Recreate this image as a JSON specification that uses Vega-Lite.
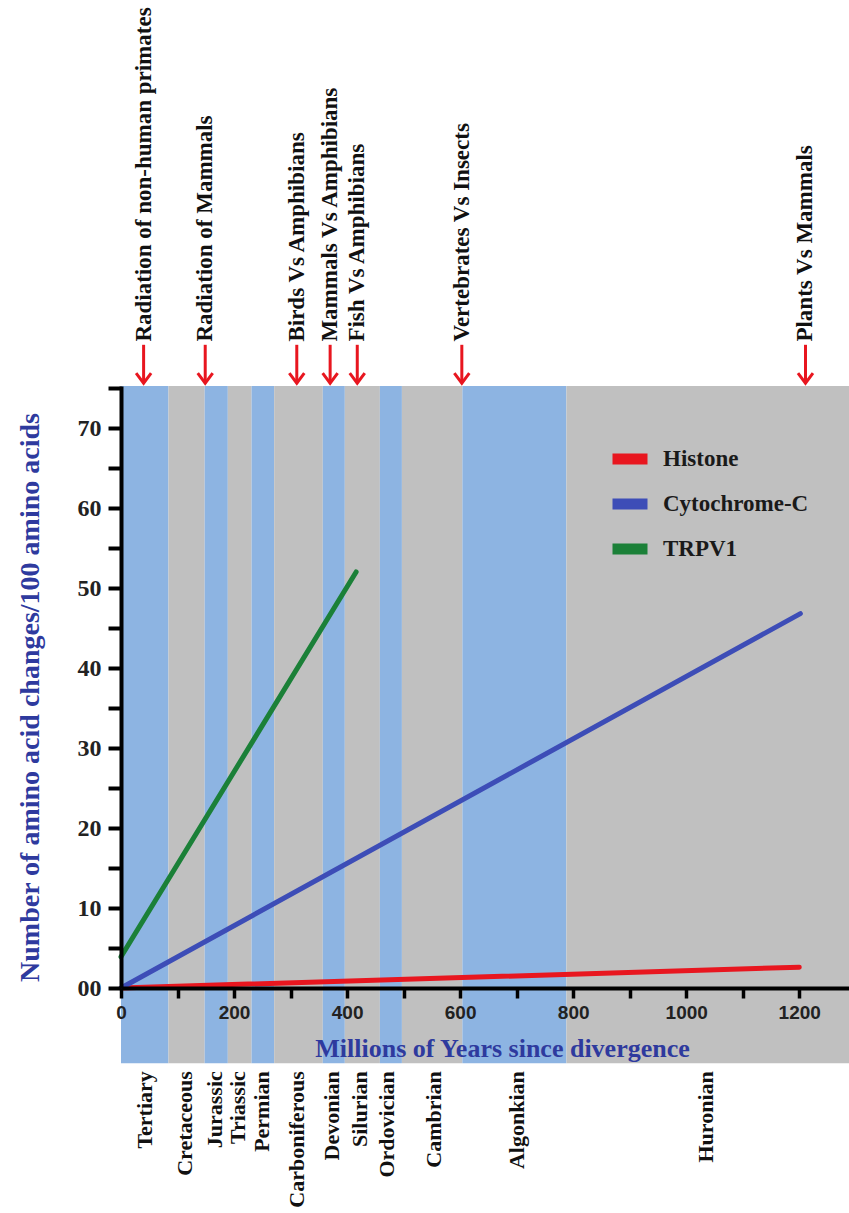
{
  "$schema": "https://vega.github.io/schema/vega-lite/v6.json",
  "width": 728,
  "height": 602,
  "autosize": {"type": "none"},
  "padding": {"left": 121, "top": 386, "right": 0, "bottom": 225},
  "background": "white",
  "config": {"view": {"stroke": null}},
  "datasets": {
    "periods": [
      {"period": "Tertiary", "start": 0, "end": 84, "mid": 43, "shade": "light"},
      {"period": "Cretaceous", "start": 84, "end": 148, "mid": 113, "shade": "dark"},
      {"period": "Jurassic", "start": 148, "end": 189, "mid": 166, "shade": "light"},
      {"period": "Triassic", "start": 189, "end": 231, "mid": 207, "shade": "dark"},
      {"period": "Permian", "start": 231, "end": 271, "mid": 249, "shade": "light"},
      {"period": "Carboniferous", "start": 271, "end": 357, "mid": 311, "shade": "dark"},
      {"period": "Devonian", "start": 357, "end": 396, "mid": 373, "shade": "light"},
      {"period": "Silurian", "start": 396, "end": 458, "mid": 423, "shade": "dark"},
      {"period": "Ordovician", "start": 458, "end": 497, "mid": 470, "shade": "light"},
      {"period": "Cambrian", "start": 497, "end": 604, "mid": 553, "shade": "dark"},
      {"period": "Algonkian", "start": 604, "end": 788, "mid": 700, "shade": "light"},
      {"period": "Huronian", "start": 788, "end": 1288, "mid": 1035, "shade": "dark"}
    ],
    "events": [
      {"event": "Radiation of non-human primates", "at": 40},
      {"event": "Radiation of Mammals", "at": 149},
      {"event": "Birds Vs Amphibians", "at": 311},
      {"event": "Mammals Vs Amphibians", "at": 370},
      {"event": "Fish Vs Amphibians", "at": 418},
      {"event": "Vertebrates Vs Insects", "at": 603},
      {"event": "Plants Vs Mammals", "at": 1211}
    ],
    "series": [
      {"protein": "Histone", "myr": 0, "changes": 0},
      {"protein": "Histone", "myr": 1200, "changes": 2.6},
      {"protein": "Cytochrome-C", "myr": 0, "changes": 0},
      {"protein": "Cytochrome-C", "myr": 1202, "changes": 46.8},
      {"protein": "TRPV1", "myr": 0, "changes": 3.9},
      {"protein": "TRPV1", "myr": 416, "changes": 52.0}
    ]
  },
  "resolve": {"scale": {"color": "independent"}, "legend": {"color": "independent"}},
  "layer": [
    {
      "data": {"name": "periods"},
      "mark": {"type": "rect"},
      "encoding": {
        "x": {
          "field": "start", "type": "quantitative",
          "scale": {"domain": [0, 1288], "nice": false, "zero": false},
          "axis": {
            "values": [0, 100, 200, 300, 400, 500, 600, 700, 800, 900, 1000, 1100, 1200],
            "format": "d",
            "labelExpr": "datum.value % 200 === 0 ? datum.label : ''",
            "title": "Millions of Years since divergence",
            "grid": false, "zindex": 1,
            "domainColor": "#000", "domainWidth": 4,
            "tickColor": "#000", "tickWidth": 3.5, "tickSize": 10,
            "labelFont": "Liberation Sans", "labelFontWeight": "bold", "labelFontSize": 19, "labelColor": "#222",
            "labelPadding": 5, "labelFlush": false, "labelOverlap": false,
            "titleFont": "Liberation Serif", "titleFontWeight": "bold", "titleFontSize": 26, "titleColor": "#2e3a9e",
            "titleX": 381, "titleY": 60, "titleBaseline": "middle", "titleAlign": "center",
            "encode": {"ticks": {"update": {"y2": {"signal": "datum.value % 200 === 0 ? 10 : 6"}}}}
          }
        },
        "x2": {"field": "end"},
        "y": {
          "datum": 75.25, "type": "quantitative",
          "scale": {"domain": [0, 75.25], "nice": false},
          "axis": {
            "values": [0, 5, 10, 15, 20, 25, 30, 35, 40, 45, 50, 55, 60, 65, 70, 75],
            "labelExpr": "datum.value % 10 === 0 ? (datum.value === 0 ? '00' : datum.label) : ''",
            "title": "Number of amino acid changes/100 amino acids",
            "grid": false, "zindex": 1,
            "domainColor": "#000", "domainWidth": 4,
            "tickColor": "#000", "tickWidth": 4, "tickSize": 13,
            "labelFont": "Liberation Serif", "labelFontWeight": "bold", "labelFontSize": 24, "labelColor": "#222",
            "labelPadding": 7, "labelFlush": false, "labelOverlap": false,
            "titleFont": "Liberation Serif", "titleFontWeight": "bold", "titleFontSize": 28, "titleColor": "#2e3a9e",
            "titleX": -91, "titleY": 311, "titleAngle": 270, "titleBaseline": "middle", "titleAlign": "center",
            "encode": {"ticks": {"update": {"x2": {"signal": "datum.value % 10 === 0 ? -13 : -7"}}}}
          }
        },
        "y2": {"datum": -9.4},
        "color": {"field": "shade", "type": "nominal", "scale": {"domain": ["light", "dark"], "range": ["#8db4e2", "#c0c0c0"]}, "legend": null}
      }
    },
    {
      "data": {"name": "periods"},
      "mark": {"type": "text", "angle": 270, "align": "right", "baseline": "middle", "font": "Liberation Serif", "fontWeight": "bold", "fontSize": 22, "color": "#111"},
      "encoding": {
        "x": {"field": "mid", "type": "quantitative"},
        "y": {"datum": -10.4, "type": "quantitative"},
        "text": {"field": "period"}
      }
    },
    {
      "data": {"name": "series"},
      "mark": {"type": "line", "strokeWidth": 5, "strokeCap": "round"},
      "encoding": {
        "x": {"field": "myr", "type": "quantitative"},
        "y": {"field": "changes", "type": "quantitative"},
        "color": {
          "field": "protein", "type": "nominal",
          "scale": {"domain": ["Histone", "Cytochrome-C", "TRPV1"], "range": ["#e8161f", "#3d4db7", "#1b8038"]},
          "legend": {
            "orient": "none", "legendX": 486, "legendY": 50, "title": null, "padding": 0,
            "symbolType": "stroke", "symbolSize": 1225, "symbolStrokeWidth": 11,
            "labelFont": "Liberation Serif", "labelFontWeight": "bold", "labelFontSize": 23, "labelColor": "#1a1a1a",
            "labelOffset": 10, "rowPadding": 0,
            "encode": {"symbols": {"update": {"strokeWidth": {"value": 11}, "strokeCap": {"value": "butt"}}}}
          }
        }
      }
    },
    {
      "data": {"name": "events"},
      "mark": {"type": "rule", "color": "#e8161f", "strokeWidth": 3},
      "encoding": {
        "x": {"field": "at", "type": "quantitative"},
        "y": {"datum": 80.4, "type": "quantitative"},
        "y2": {"datum": 75.6}
      }
    },
    {
      "data": {"name": "events"},
      "mark": {"type": "point", "shape": "M-0.75,-1L0,0L0.75,-1", "size": 400, "filled": false, "stroke": "#e8161f", "strokeWidth": 3, "strokeJoin": "miter", "opacity": 1},
      "encoding": {
        "x": {"field": "at", "type": "quantitative"},
        "y": {"datum": 75.6, "type": "quantitative"}
      }
    },
    {
      "data": {"name": "events"},
      "mark": {"type": "text", "angle": 270, "align": "left", "baseline": "middle", "font": "Liberation Serif", "fontWeight": "bold", "fontSize": 23, "color": "#111"},
      "encoding": {
        "x": {"field": "at", "type": "quantitative"},
        "y": {"datum": 80.8, "type": "quantitative"},
        "text": {"field": "event"}
      }
    }
  ]
}
